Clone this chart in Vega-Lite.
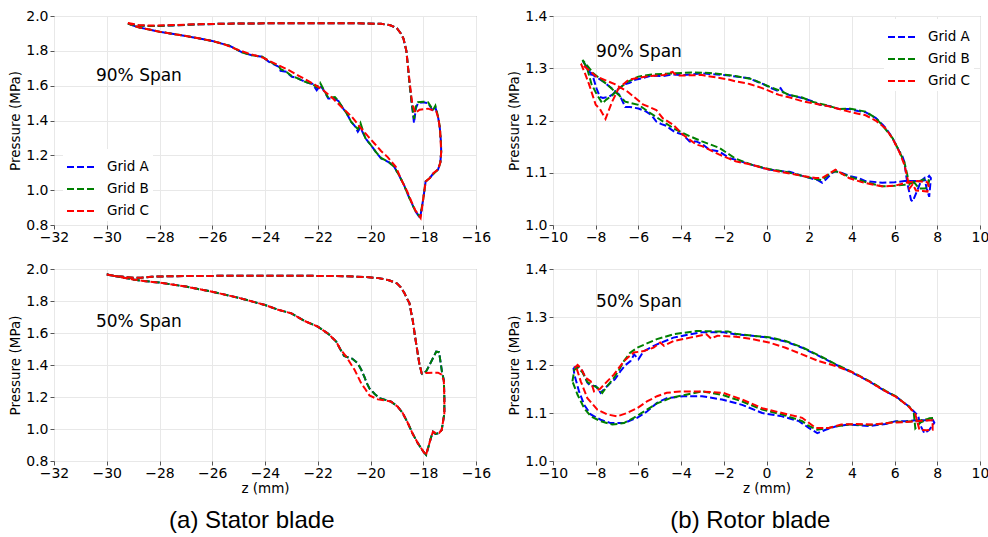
{
"$schema": "https://vega.github.io/schema/vega-lite/v6.json",
"padding": {"left": 8, "top": 8, "right": 0, "bottom": 0},
"spacing": 15,
"config": {
 "font": "DejaVu Sans",
 "view": {"stroke": "#8c8c8c", "strokeWidth": 1},
 "axis": {"labelFont": "DejaVu Sans", "labelFontSize": 14, "labelColor": "#000", "titleFont": "DejaVu Sans", "titleFontSize": 13.5, "titleFontWeight": "normal", "titleColor": "#000", "gridColor": "#e8e8e8", "gridWidth": 1, "domain": false, "tickColor": "#555", "tickSize": 4, "labelPadding": 2, "labelOverlap": false, "tickCount": 12},
 "axisX": {"labelPadding": 1, "titlePadding": 1, "labelFlush": false},
 "axisY": {"titlePadding": 3, "labelOverlap": false},
 "legend": {"title": null, "symbolType": "stroke", "symbolStrokeWidth": 2, "symbolDash": [7, 3], "symbolSize": 784, "labelFont": "DejaVu Sans", "labelFontSize": 13.5, "labelColor": "#000", "labelOffset": 11, "rowPadding": 0, "fillColor": "white", "padding": 3, "orient": "none"}
},
"datasets": {
"s90": [
{"g":"Grid A","z":-29.2,"p":1.955},{"g":"Grid A","z":-28.8,"p":1.945},{"g":"Grid A","z":-28.3,"p":1.942},{"g":"Grid A","z":-27.5,"p":1.946},{"g":"Grid A","z":-26.5,"p":1.952},{"g":"Grid A","z":-25.5,"p":1.956},{"g":"Grid A","z":-24,"p":1.958},{"g":"Grid A","z":-22,"p":1.958},{"g":"Grid A","z":-20.5,"p":1.958},{"g":"Grid A","z":-19.6,"p":1.955},{"g":"Grid A","z":-19.25,"p":1.947},{"g":"Grid A","z":-19.0,"p":1.93},{"g":"Grid A","z":-18.85,"p":1.9},{"g":"Grid A","z":-18.75,"p":1.87},{"g":"Grid A","z":-18.64,"p":1.8},{"g":"Grid A","z":-18.58,"p":1.71},{"g":"Grid A","z":-18.52,"p":1.61},{"g":"Grid A","z":-18.43,"p":1.49},{"g":"Grid A","z":-18.35,"p":1.386},{"g":"Grid A","z":-18.28,"p":1.47},{"g":"Grid A","z":-18.2,"p":1.5},{"g":"Grid A","z":-18.0,"p":1.505},{"g":"Grid A","z":-17.82,"p":1.5},{"g":"Grid A","z":-17.63,"p":1.455},{"g":"Grid A","z":-17.54,"p":1.475},{"g":"Grid A","z":-17.45,"p":1.43},{"g":"Grid A","z":-17.38,"p":1.37},{"g":"Grid A","z":-17.33,"p":1.28},{"g":"Grid A","z":-17.32,"p":1.22},{"g":"Grid A","z":-17.35,"p":1.16},{"g":"Grid A","z":-17.44,"p":1.118},{"g":"Grid A","z":-17.6,"p":1.1},{"g":"Grid A","z":-17.75,"p":1.07},{"g":"Grid A","z":-17.91,"p":1.05},{"g":"Grid A","z":-18.0,"p":0.95},{"g":"Grid A","z":-18.12,"p":0.84},{"g":"Grid A","z":-18.3,"p":0.88},{"g":"Grid A","z":-18.45,"p":0.93},{"g":"Grid A","z":-18.6,"p":0.98},{"g":"Grid A","z":-18.73,"p":1.03},{"g":"Grid A","z":-18.9,"p":1.08},{"g":"Grid A","z":-19.1,"p":1.134},{"g":"Grid A","z":-19.3,"p":1.16},{"g":"Grid A","z":-19.6,"p":1.182},{"g":"Grid A","z":-19.8,"p":1.22},{"g":"Grid A","z":-19.98,"p":1.258},{"g":"Grid A","z":-20.2,"p":1.3},{"g":"Grid A","z":-20.38,"p":1.36},{"g":"Grid A","z":-20.48,"p":1.335},{"g":"Grid A","z":-20.6,"p":1.37},{"g":"Grid A","z":-20.73,"p":1.392},{"g":"Grid A","z":-20.9,"p":1.44},{"g":"Grid A","z":-21.04,"p":1.469},{"g":"Grid A","z":-21.2,"p":1.51},{"g":"Grid A","z":-21.35,"p":1.526},{"g":"Grid A","z":-21.6,"p":1.526},{"g":"Grid A","z":-21.8,"p":1.58},{"g":"Grid A","z":-21.91,"p":1.6},{"g":"Grid A","z":-22.04,"p":1.574},{"g":"Grid A","z":-22.2,"p":1.61},{"g":"Grid A","z":-22.48,"p":1.622},{"g":"Grid A","z":-22.8,"p":1.645},{"g":"Grid A","z":-22.98,"p":1.651},{"g":"Grid A","z":-23.2,"p":1.68},{"g":"Grid A","z":-23.41,"p":1.685},{"g":"Grid A","z":-23.47,"p":1.708},{"g":"Grid A","z":-23.85,"p":1.737},{"g":"Grid A","z":-24.1,"p":1.766},{"g":"Grid A","z":-24.5,"p":1.775},{"g":"Grid A","z":-24.85,"p":1.79},{"g":"Grid A","z":-25.1,"p":1.81},{"g":"Grid A","z":-25.35,"p":1.829},{"g":"Grid A","z":-26.0,"p":1.857},{"g":"Grid A","z":-27.0,"p":1.885},{"g":"Grid A","z":-28.0,"p":1.91},{"g":"Grid A","z":-28.8,"p":1.935},{"g":"Grid A","z":-29.2,"p":1.955},
{"g":"Grid B","z":-29.2,"p":1.957},{"g":"Grid B","z":-28.8,"p":1.945},{"g":"Grid B","z":-28.3,"p":1.942},{"g":"Grid B","z":-27.5,"p":1.946},{"g":"Grid B","z":-26.5,"p":1.952},{"g":"Grid B","z":-25.5,"p":1.956},{"g":"Grid B","z":-24,"p":1.958},{"g":"Grid B","z":-22,"p":1.958},{"g":"Grid B","z":-20.5,"p":1.958},{"g":"Grid B","z":-19.6,"p":1.955},{"g":"Grid B","z":-19.25,"p":1.947},{"g":"Grid B","z":-19.0,"p":1.93},{"g":"Grid B","z":-18.85,"p":1.9},{"g":"Grid B","z":-18.75,"p":1.87},{"g":"Grid B","z":-18.64,"p":1.8},{"g":"Grid B","z":-18.58,"p":1.71},{"g":"Grid B","z":-18.52,"p":1.61},{"g":"Grid B","z":-18.43,"p":1.49},{"g":"Grid B","z":-18.35,"p":1.41},{"g":"Grid B","z":-18.28,"p":1.48},{"g":"Grid B","z":-18.2,"p":1.505},{"g":"Grid B","z":-18.0,"p":1.508},{"g":"Grid B","z":-17.82,"p":1.505},{"g":"Grid B","z":-17.63,"p":1.46},{"g":"Grid B","z":-17.54,"p":1.485},{"g":"Grid B","z":-17.45,"p":1.43},{"g":"Grid B","z":-17.38,"p":1.37},{"g":"Grid B","z":-17.33,"p":1.28},{"g":"Grid B","z":-17.32,"p":1.22},{"g":"Grid B","z":-17.35,"p":1.16},{"g":"Grid B","z":-17.44,"p":1.118},{"g":"Grid B","z":-17.6,"p":1.095},{"g":"Grid B","z":-17.75,"p":1.07},{"g":"Grid B","z":-17.91,"p":1.05},{"g":"Grid B","z":-18.0,"p":0.95},{"g":"Grid B","z":-18.12,"p":0.845},{"g":"Grid B","z":-18.3,"p":0.88},{"g":"Grid B","z":-18.45,"p":0.93},{"g":"Grid B","z":-18.6,"p":0.98},{"g":"Grid B","z":-18.73,"p":1.03},{"g":"Grid B","z":-18.9,"p":1.08},{"g":"Grid B","z":-19.1,"p":1.134},{"g":"Grid B","z":-19.3,"p":1.16},{"g":"Grid B","z":-19.6,"p":1.185},{"g":"Grid B","z":-19.8,"p":1.22},{"g":"Grid B","z":-19.98,"p":1.258},{"g":"Grid B","z":-20.2,"p":1.3},{"g":"Grid B","z":-20.38,"p":1.385},{"g":"Grid B","z":-20.48,"p":1.35},{"g":"Grid B","z":-20.6,"p":1.37},{"g":"Grid B","z":-20.73,"p":1.392},{"g":"Grid B","z":-20.9,"p":1.44},{"g":"Grid B","z":-21.04,"p":1.469},{"g":"Grid B","z":-21.2,"p":1.51},{"g":"Grid B","z":-21.35,"p":1.535},{"g":"Grid B","z":-21.6,"p":1.53},{"g":"Grid B","z":-21.8,"p":1.585},{"g":"Grid B","z":-21.91,"p":1.616},{"g":"Grid B","z":-22.04,"p":1.59},{"g":"Grid B","z":-22.2,"p":1.61},{"g":"Grid B","z":-22.48,"p":1.622},{"g":"Grid B","z":-22.8,"p":1.645},{"g":"Grid B","z":-22.98,"p":1.655},{"g":"Grid B","z":-23.2,"p":1.68},{"g":"Grid B","z":-23.41,"p":1.695},{"g":"Grid B","z":-23.47,"p":1.71},{"g":"Grid B","z":-23.85,"p":1.74},{"g":"Grid B","z":-24.1,"p":1.766},{"g":"Grid B","z":-24.5,"p":1.775},{"g":"Grid B","z":-24.85,"p":1.79},{"g":"Grid B","z":-25.1,"p":1.81},{"g":"Grid B","z":-25.35,"p":1.829},{"g":"Grid B","z":-26.0,"p":1.857},{"g":"Grid B","z":-27.0,"p":1.885},{"g":"Grid B","z":-28.0,"p":1.91},{"g":"Grid B","z":-28.8,"p":1.935},{"g":"Grid B","z":-29.2,"p":1.957},
{"g":"Grid C","z":-29.2,"p":1.96},{"g":"Grid C","z":-28.8,"p":1.948},{"g":"Grid C","z":-28.3,"p":1.945},{"g":"Grid C","z":-27.5,"p":1.948},{"g":"Grid C","z":-26.5,"p":1.953},{"g":"Grid C","z":-25.5,"p":1.956},{"g":"Grid C","z":-24,"p":1.958},{"g":"Grid C","z":-22,"p":1.958},{"g":"Grid C","z":-20.5,"p":1.958},{"g":"Grid C","z":-19.6,"p":1.955},{"g":"Grid C","z":-19.25,"p":1.947},{"g":"Grid C","z":-19.0,"p":1.93},{"g":"Grid C","z":-18.85,"p":1.9},{"g":"Grid C","z":-18.75,"p":1.87},{"g":"Grid C","z":-18.64,"p":1.8},{"g":"Grid C","z":-18.58,"p":1.71},{"g":"Grid C","z":-18.5,"p":1.6},{"g":"Grid C","z":-18.42,"p":1.5},{"g":"Grid C","z":-18.3,"p":1.443},{"g":"Grid C","z":-18.14,"p":1.462},{"g":"Grid C","z":-17.82,"p":1.468},{"g":"Grid C","z":-17.51,"p":1.453},{"g":"Grid C","z":-17.42,"p":1.41},{"g":"Grid C","z":-17.36,"p":1.34},{"g":"Grid C","z":-17.32,"p":1.22},{"g":"Grid C","z":-17.35,"p":1.16},{"g":"Grid C","z":-17.44,"p":1.118},{"g":"Grid C","z":-17.6,"p":1.1},{"g":"Grid C","z":-17.75,"p":1.07},{"g":"Grid C","z":-17.91,"p":1.05},{"g":"Grid C","z":-18.0,"p":0.95},{"g":"Grid C","z":-18.1,"p":0.84},{"g":"Grid C","z":-18.3,"p":0.885},{"g":"Grid C","z":-18.45,"p":0.935},{"g":"Grid C","z":-18.6,"p":0.99},{"g":"Grid C","z":-18.8,"p":1.05},{"g":"Grid C","z":-19.04,"p":1.134},{"g":"Grid C","z":-19.35,"p":1.19},{"g":"Grid C","z":-19.6,"p":1.225},{"g":"Grid C","z":-19.85,"p":1.268},{"g":"Grid C","z":-20.1,"p":1.31},{"g":"Grid C","z":-20.35,"p":1.354},{"g":"Grid C","z":-20.7,"p":1.42},{"g":"Grid C","z":-21.1,"p":1.478},{"g":"Grid C","z":-21.45,"p":1.53},{"g":"Grid C","z":-21.79,"p":1.574},{"g":"Grid C","z":-22.1,"p":1.605},{"g":"Grid C","z":-22.35,"p":1.626},{"g":"Grid C","z":-22.7,"p":1.655},{"g":"Grid C","z":-23.1,"p":1.689},{"g":"Grid C","z":-23.6,"p":1.725},{"g":"Grid C","z":-24.1,"p":1.762},{"g":"Grid C","z":-24.6,"p":1.783},{"g":"Grid C","z":-25.1,"p":1.81},{"g":"Grid C","z":-25.5,"p":1.835},{"g":"Grid C","z":-26.0,"p":1.857},{"g":"Grid C","z":-27.0,"p":1.885},{"g":"Grid C","z":-28.0,"p":1.91},{"g":"Grid C","z":-28.8,"p":1.935},{"g":"Grid C","z":-29.2,"p":1.96}
],
"s50": [
{"g":"Grid A","z":-30.0,"p":1.965},{"g":"Grid A","z":-29.6,"p":1.955},{"g":"Grid A","z":-29.0,"p":1.945},{"g":"Grid A","z":-28.7,"p":1.945},{"g":"Grid A","z":-28.3,"p":1.952},{"g":"Grid A","z":-27.5,"p":1.955},{"g":"Grid A","z":-26,"p":1.957},{"g":"Grid A","z":-24,"p":1.958},{"g":"Grid A","z":-22,"p":1.957},{"g":"Grid A","z":-21,"p":1.955},{"g":"Grid A","z":-20.2,"p":1.95},{"g":"Grid A","z":-19.7,"p":1.943},{"g":"Grid A","z":-19.3,"p":1.93},{"g":"Grid A","z":-19.0,"p":1.91},{"g":"Grid A","z":-18.85,"p":1.885},{"g":"Grid A","z":-18.71,"p":1.848},{"g":"Grid A","z":-18.6,"p":1.81},{"g":"Grid A","z":-18.52,"p":1.785},{"g":"Grid A","z":-18.46,"p":1.73},{"g":"Grid A","z":-18.4,"p":1.68},{"g":"Grid A","z":-18.33,"p":1.6},{"g":"Grid A","z":-18.27,"p":1.535},{"g":"Grid A","z":-18.15,"p":1.41},{"g":"Grid A","z":-18.06,"p":1.348},{"g":"Grid A","z":-18.04,"p":1.344},{"g":"Grid A","z":-17.89,"p":1.36},{"g":"Grid A","z":-17.7,"p":1.42},{"g":"Grid A","z":-17.51,"p":1.483},{"g":"Grid A","z":-17.4,"p":1.48},{"g":"Grid A","z":-17.29,"p":1.358},{"g":"Grid A","z":-17.22,"p":1.306},{"g":"Grid A","z":-17.2,"p":1.2},{"g":"Grid A","z":-17.2,"p":1.098},{"g":"Grid A","z":-17.3,"p":0.994},{"g":"Grid A","z":-17.4,"p":0.975},{"g":"Grid A","z":-17.54,"p":0.969},{"g":"Grid A","z":-17.63,"p":0.983},{"g":"Grid A","z":-17.7,"p":0.95},{"g":"Grid A","z":-17.89,"p":0.838},{"g":"Grid A","z":-18.0,"p":0.86},{"g":"Grid A","z":-18.2,"p":0.91},{"g":"Grid A","z":-18.4,"p":0.97},{"g":"Grid A","z":-18.58,"p":1.036},{"g":"Grid A","z":-18.78,"p":1.1},{"g":"Grid A","z":-18.97,"p":1.14},{"g":"Grid A","z":-19.22,"p":1.171},{"g":"Grid A","z":-19.34,"p":1.178},{"g":"Grid A","z":-19.66,"p":1.192},{"g":"Grid A","z":-19.85,"p":1.22},{"g":"Grid A","z":-20.04,"p":1.254},{"g":"Grid A","z":-20.15,"p":1.29},{"g":"Grid A","z":-20.23,"p":1.325},{"g":"Grid A","z":-20.35,"p":1.37},{"g":"Grid A","z":-20.48,"p":1.41},{"g":"Grid A","z":-20.7,"p":1.44},{"g":"Grid A","z":-21.0,"p":1.456},{"g":"Grid A","z":-21.15,"p":1.5},{"g":"Grid A","z":-21.3,"p":1.546},{"g":"Grid A","z":-21.6,"p":1.595},{"g":"Grid A","z":-22.0,"p":1.64},{"g":"Grid A","z":-22.5,"p":1.675},{"g":"Grid A","z":-23.0,"p":1.723},{"g":"Grid A","z":-23.5,"p":1.745},{"g":"Grid A","z":-24.0,"p":1.775},{"g":"Grid A","z":-25.0,"p":1.82},{"g":"Grid A","z":-26.0,"p":1.858},{"g":"Grid A","z":-27.0,"p":1.89},{"g":"Grid A","z":-28.0,"p":1.915},{"g":"Grid A","z":-28.6,"p":1.925},{"g":"Grid A","z":-29.0,"p":1.935},{"g":"Grid A","z":-29.5,"p":1.95},{"g":"Grid A","z":-30.0,"p":1.965},
{"g":"Grid B","z":-30.0,"p":1.965},{"g":"Grid B","z":-29.6,"p":1.955},{"g":"Grid B","z":-29.0,"p":1.945},{"g":"Grid B","z":-28.7,"p":1.945},{"g":"Grid B","z":-28.3,"p":1.952},{"g":"Grid B","z":-27.5,"p":1.955},{"g":"Grid B","z":-26,"p":1.957},{"g":"Grid B","z":-24,"p":1.958},{"g":"Grid B","z":-22,"p":1.957},{"g":"Grid B","z":-21,"p":1.955},{"g":"Grid B","z":-20.2,"p":1.95},{"g":"Grid B","z":-19.7,"p":1.943},{"g":"Grid B","z":-19.3,"p":1.93},{"g":"Grid B","z":-19.0,"p":1.91},{"g":"Grid B","z":-18.85,"p":1.885},{"g":"Grid B","z":-18.71,"p":1.848},{"g":"Grid B","z":-18.6,"p":1.81},{"g":"Grid B","z":-18.52,"p":1.785},{"g":"Grid B","z":-18.46,"p":1.73},{"g":"Grid B","z":-18.4,"p":1.68},{"g":"Grid B","z":-18.33,"p":1.6},{"g":"Grid B","z":-18.27,"p":1.535},{"g":"Grid B","z":-18.15,"p":1.41},{"g":"Grid B","z":-18.06,"p":1.348},{"g":"Grid B","z":-18.04,"p":1.344},{"g":"Grid B","z":-17.89,"p":1.36},{"g":"Grid B","z":-17.7,"p":1.42},{"g":"Grid B","z":-17.51,"p":1.483},{"g":"Grid B","z":-17.4,"p":1.48},{"g":"Grid B","z":-17.29,"p":1.358},{"g":"Grid B","z":-17.22,"p":1.306},{"g":"Grid B","z":-17.2,"p":1.2},{"g":"Grid B","z":-17.2,"p":1.098},{"g":"Grid B","z":-17.3,"p":0.994},{"g":"Grid B","z":-17.4,"p":0.975},{"g":"Grid B","z":-17.54,"p":0.969},{"g":"Grid B","z":-17.63,"p":0.983},{"g":"Grid B","z":-17.7,"p":0.95},{"g":"Grid B","z":-17.89,"p":0.838},{"g":"Grid B","z":-18.0,"p":0.86},{"g":"Grid B","z":-18.2,"p":0.91},{"g":"Grid B","z":-18.4,"p":0.97},{"g":"Grid B","z":-18.58,"p":1.036},{"g":"Grid B","z":-18.78,"p":1.1},{"g":"Grid B","z":-18.97,"p":1.14},{"g":"Grid B","z":-19.22,"p":1.171},{"g":"Grid B","z":-19.34,"p":1.178},{"g":"Grid B","z":-19.66,"p":1.192},{"g":"Grid B","z":-19.85,"p":1.22},{"g":"Grid B","z":-20.04,"p":1.254},{"g":"Grid B","z":-20.15,"p":1.29},{"g":"Grid B","z":-20.23,"p":1.325},{"g":"Grid B","z":-20.35,"p":1.37},{"g":"Grid B","z":-20.48,"p":1.41},{"g":"Grid B","z":-20.7,"p":1.44},{"g":"Grid B","z":-21.0,"p":1.456},{"g":"Grid B","z":-21.15,"p":1.5},{"g":"Grid B","z":-21.3,"p":1.546},{"g":"Grid B","z":-21.6,"p":1.595},{"g":"Grid B","z":-22.0,"p":1.64},{"g":"Grid B","z":-22.5,"p":1.675},{"g":"Grid B","z":-23.0,"p":1.723},{"g":"Grid B","z":-23.5,"p":1.745},{"g":"Grid B","z":-24.0,"p":1.775},{"g":"Grid B","z":-25.0,"p":1.82},{"g":"Grid B","z":-26.0,"p":1.858},{"g":"Grid B","z":-27.0,"p":1.89},{"g":"Grid B","z":-28.0,"p":1.915},{"g":"Grid B","z":-28.6,"p":1.925},{"g":"Grid B","z":-29.0,"p":1.935},{"g":"Grid B","z":-29.5,"p":1.95},{"g":"Grid B","z":-30.0,"p":1.965},
{"g":"Grid C","z":-30.0,"p":1.965},{"g":"Grid C","z":-29.6,"p":1.955},{"g":"Grid C","z":-29.0,"p":1.945},{"g":"Grid C","z":-28.7,"p":1.945},{"g":"Grid C","z":-28.3,"p":1.952},{"g":"Grid C","z":-27.5,"p":1.955},{"g":"Grid C","z":-26,"p":1.957},{"g":"Grid C","z":-24,"p":1.958},{"g":"Grid C","z":-22,"p":1.957},{"g":"Grid C","z":-21,"p":1.955},{"g":"Grid C","z":-20.2,"p":1.95},{"g":"Grid C","z":-19.7,"p":1.943},{"g":"Grid C","z":-19.3,"p":1.93},{"g":"Grid C","z":-19.0,"p":1.91},{"g":"Grid C","z":-18.85,"p":1.885},{"g":"Grid C","z":-18.71,"p":1.848},{"g":"Grid C","z":-18.6,"p":1.81},{"g":"Grid C","z":-18.52,"p":1.785},{"g":"Grid C","z":-18.46,"p":1.73},{"g":"Grid C","z":-18.4,"p":1.68},{"g":"Grid C","z":-18.33,"p":1.6},{"g":"Grid C","z":-18.27,"p":1.535},{"g":"Grid C","z":-18.15,"p":1.41},{"g":"Grid C","z":-18.06,"p":1.348},{"g":"Grid C","z":-18.0,"p":1.345},{"g":"Grid C","z":-17.9,"p":1.35},{"g":"Grid C","z":-17.6,"p":1.352},{"g":"Grid C","z":-17.44,"p":1.352},{"g":"Grid C","z":-17.3,"p":1.34},{"g":"Grid C","z":-17.22,"p":1.3},{"g":"Grid C","z":-17.2,"p":1.2},{"g":"Grid C","z":-17.2,"p":1.098},{"g":"Grid C","z":-17.3,"p":0.994},{"g":"Grid C","z":-17.4,"p":0.975},{"g":"Grid C","z":-17.54,"p":0.975},{"g":"Grid C","z":-17.63,"p":0.983},{"g":"Grid C","z":-17.7,"p":0.95},{"g":"Grid C","z":-17.9,"p":0.835},{"g":"Grid C","z":-18.0,"p":0.86},{"g":"Grid C","z":-18.2,"p":0.91},{"g":"Grid C","z":-18.4,"p":0.97},{"g":"Grid C","z":-18.58,"p":1.036},{"g":"Grid C","z":-18.78,"p":1.1},{"g":"Grid C","z":-18.97,"p":1.14},{"g":"Grid C","z":-19.22,"p":1.171},{"g":"Grid C","z":-19.5,"p":1.18},{"g":"Grid C","z":-19.72,"p":1.185},{"g":"Grid C","z":-20.04,"p":1.21},{"g":"Grid C","z":-20.2,"p":1.25},{"g":"Grid C","z":-20.35,"p":1.285},{"g":"Grid C","z":-20.6,"p":1.369},{"g":"Grid C","z":-20.92,"p":1.452},{"g":"Grid C","z":-21.15,"p":1.5},{"g":"Grid C","z":-21.3,"p":1.546},{"g":"Grid C","z":-21.6,"p":1.595},{"g":"Grid C","z":-22.0,"p":1.64},{"g":"Grid C","z":-22.5,"p":1.675},{"g":"Grid C","z":-23.0,"p":1.723},{"g":"Grid C","z":-23.5,"p":1.745},{"g":"Grid C","z":-24.0,"p":1.775},{"g":"Grid C","z":-25.0,"p":1.82},{"g":"Grid C","z":-26.0,"p":1.858},{"g":"Grid C","z":-27.0,"p":1.89},{"g":"Grid C","z":-28.0,"p":1.915},{"g":"Grid C","z":-28.6,"p":1.925},{"g":"Grid C","z":-29.0,"p":1.935},{"g":"Grid C","z":-29.5,"p":1.95},{"g":"Grid C","z":-30.0,"p":1.965}
],
"r90": [
{"g":"Grid A","z":-8.6,"p":1.314},{"g":"Grid A","z":-8.31,"p":1.295},{"g":"Grid A","z":-8.1,"p":1.28},{"g":"Grid A","z":-7.95,"p":1.26},{"g":"Grid A","z":-7.8,"p":1.245},{"g":"Grid A","z":-7.66,"p":1.243},{"g":"Grid A","z":-7.4,"p":1.245},{"g":"Grid A","z":-7.2,"p":1.25},{"g":"Grid A","z":-6.9,"p":1.262},{"g":"Grid A","z":-6.6,"p":1.27},{"g":"Grid A","z":-6.41,"p":1.272},{"g":"Grid A","z":-6.15,"p":1.278},{"g":"Grid A","z":-5.79,"p":1.281},{"g":"Grid A","z":-5.38,"p":1.286},{"g":"Grid A","z":-4.85,"p":1.285},{"g":"Grid A","z":-4.4,"p":1.288},{"g":"Grid A","z":-3.92,"p":1.287},{"g":"Grid A","z":-3.02,"p":1.29},{"g":"Grid A","z":-2.67,"p":1.289},{"g":"Grid A","z":-1.73,"p":1.286},{"g":"Grid A","z":-1.45,"p":1.284},{"g":"Grid A","z":-0.8,"p":1.281},{"g":"Grid A","z":-0.67,"p":1.278},{"g":"Grid A","z":-0.17,"p":1.27},{"g":"Grid A","z":0.11,"p":1.264},{"g":"Grid A","z":0.5,"p":1.257},{"g":"Grid A","z":0.66,"p":1.262},{"g":"Grid A","z":0.8,"p":1.253},{"g":"Grid A","z":1.05,"p":1.249},{"g":"Grid A","z":1.67,"p":1.243},{"g":"Grid A","z":2.14,"p":1.237},{"g":"Grid A","z":2.5,"p":1.23},{"g":"Grid A","z":2.92,"p":1.228},{"g":"Grid A","z":3.4,"p":1.222},{"g":"Grid A","z":3.86,"p":1.222},{"g":"Grid A","z":4.3,"p":1.218},{"g":"Grid A","z":4.64,"p":1.216},{"g":"Grid A","z":5.11,"p":1.205},{"g":"Grid A","z":5.44,"p":1.192},{"g":"Grid A","z":5.58,"p":1.186},{"g":"Grid A","z":5.91,"p":1.166},{"g":"Grid A","z":6.05,"p":1.154},{"g":"Grid A","z":6.22,"p":1.141},{"g":"Grid A","z":6.36,"p":1.132},{"g":"Grid A","z":6.46,"p":1.12},{"g":"Grid A","z":6.54,"p":1.095},{"g":"Grid A","z":6.62,"p":1.075},{"g":"Grid A","z":6.77,"p":1.048},{"g":"Grid A","z":6.85,"p":1.045},{"g":"Grid A","z":7.0,"p":1.06},{"g":"Grid A","z":7.25,"p":1.085},{"g":"Grid A","z":7.4,"p":1.09},{"g":"Grid A","z":7.5,"p":1.07},{"g":"Grid A","z":7.62,"p":1.054},{"g":"Grid A","z":7.7,"p":1.09},{"g":"Grid A","z":7.62,"p":1.094},{"g":"Grid A","z":7.46,"p":1.086},{"g":"Grid A","z":7.23,"p":1.084},{"g":"Grid A","z":6.77,"p":1.084},{"g":"Grid A","z":6.46,"p":1.084},{"g":"Grid A","z":6.0,"p":1.082},{"g":"Grid A","z":5.42,"p":1.081},{"g":"Grid A","z":4.64,"p":1.084},{"g":"Grid A","z":4.3,"p":1.09},{"g":"Grid A","z":3.86,"p":1.094},{"g":"Grid A","z":3.5,"p":1.1},{"g":"Grid A","z":3.23,"p":1.103},{"g":"Grid A","z":3.08,"p":1.1},{"g":"Grid A","z":2.8,"p":1.088},{"g":"Grid A","z":2.61,"p":1.081},{"g":"Grid A","z":2.4,"p":1.086},{"g":"Grid A","z":2.3,"p":1.087},{"g":"Grid A","z":1.67,"p":1.094},{"g":"Grid A","z":1.08,"p":1.102},{"g":"Grid A","z":0.89,"p":1.102},{"g":"Grid A","z":0.11,"p":1.106},{"g":"Grid A","z":-0.67,"p":1.115},{"g":"Grid A","z":-1.45,"p":1.125},{"g":"Grid A","z":-1.73,"p":1.128},{"g":"Grid A","z":-2.23,"p":1.141},{"g":"Grid A","z":-2.67,"p":1.144},{"g":"Grid A","z":-3.02,"p":1.155},{"g":"Grid A","z":-3.29,"p":1.16},{"g":"Grid A","z":-3.6,"p":1.16},{"g":"Grid A","z":-3.92,"p":1.173},{"g":"Grid A","z":-4.3,"p":1.178},{"g":"Grid A","z":-4.54,"p":1.185},{"g":"Grid A","z":-4.7,"p":1.19},{"g":"Grid A","z":-4.92,"p":1.193},{"g":"Grid A","z":-5.16,"p":1.198},{"g":"Grid A","z":-5.38,"p":1.21},{"g":"Grid A","z":-5.63,"p":1.217},{"g":"Grid A","z":-6.0,"p":1.223},{"g":"Grid A","z":-6.41,"p":1.226},{"g":"Grid A","z":-6.62,"p":1.226},{"g":"Grid A","z":-6.88,"p":1.249},{"g":"Grid A","z":-7.2,"p":1.26},{"g":"Grid A","z":-7.66,"p":1.275},{"g":"Grid A","z":-8.13,"p":1.287},{"g":"Grid A","z":-8.4,"p":1.3},{"g":"Grid A","z":-8.6,"p":1.314},
{"g":"Grid B","z":-8.62,"p":1.316},{"g":"Grid B","z":-8.4,"p":1.3},{"g":"Grid B","z":-8.2,"p":1.27},{"g":"Grid B","z":-7.95,"p":1.25},{"g":"Grid B","z":-7.69,"p":1.233},{"g":"Grid B","z":-7.5,"p":1.24},{"g":"Grid B","z":-7.23,"p":1.248},{"g":"Grid B","z":-6.95,"p":1.26},{"g":"Grid B","z":-6.46,"p":1.275},{"g":"Grid B","z":-6.0,"p":1.284},{"g":"Grid B","z":-5.38,"p":1.288},{"g":"Grid B","z":-4.5,"p":1.29},{"g":"Grid B","z":-3.5,"p":1.292},{"g":"Grid B","z":-2.67,"p":1.291},{"g":"Grid B","z":-2.0,"p":1.288},{"g":"Grid B","z":-1.45,"p":1.285},{"g":"Grid B","z":-0.67,"p":1.279},{"g":"Grid B","z":0.11,"p":1.265},{"g":"Grid B","z":0.7,"p":1.256},{"g":"Grid B","z":1.05,"p":1.249},{"g":"Grid B","z":1.67,"p":1.244},{"g":"Grid B","z":2.14,"p":1.236},{"g":"Grid B","z":2.92,"p":1.228},{"g":"Grid B","z":3.4,"p":1.222},{"g":"Grid B","z":3.86,"p":1.223},{"g":"Grid B","z":4.64,"p":1.217},{"g":"Grid B","z":5.11,"p":1.205},{"g":"Grid B","z":5.44,"p":1.19},{"g":"Grid B","z":5.91,"p":1.166},{"g":"Grid B","z":6.22,"p":1.141},{"g":"Grid B","z":6.46,"p":1.12},{"g":"Grid B","z":6.6,"p":1.095},{"g":"Grid B","z":6.7,"p":1.078},{"g":"Grid B","z":6.85,"p":1.085},{"g":"Grid B","z":7.15,"p":1.07},{"g":"Grid B","z":7.4,"p":1.07},{"g":"Grid B","z":7.54,"p":1.071},{"g":"Grid B","z":7.62,"p":1.085},{"g":"Grid B","z":7.46,"p":1.088},{"g":"Grid B","z":7.0,"p":1.082},{"g":"Grid B","z":6.46,"p":1.077},{"g":"Grid B","z":6.0,"p":1.075},{"g":"Grid B","z":5.42,"p":1.074},{"g":"Grid B","z":4.64,"p":1.082},{"g":"Grid B","z":3.86,"p":1.093},{"g":"Grid B","z":3.23,"p":1.103},{"g":"Grid B","z":3.0,"p":1.1},{"g":"Grid B","z":2.61,"p":1.086},{"g":"Grid B","z":2.3,"p":1.088},{"g":"Grid B","z":1.67,"p":1.094},{"g":"Grid B","z":0.89,"p":1.102},{"g":"Grid B","z":0.11,"p":1.107},{"g":"Grid B","z":-0.67,"p":1.115},{"g":"Grid B","z":-1.45,"p":1.127},{"g":"Grid B","z":-2.23,"p":1.148},{"g":"Grid B","z":-3.02,"p":1.16},{"g":"Grid B","z":-3.6,"p":1.17},{"g":"Grid B","z":-4.31,"p":1.184},{"g":"Grid B","z":-4.92,"p":1.2},{"g":"Grid B","z":-5.54,"p":1.217},{"g":"Grid B","z":-6.0,"p":1.23},{"g":"Grid B","z":-6.62,"p":1.236},{"g":"Grid B","z":-6.92,"p":1.249},{"g":"Grid B","z":-7.5,"p":1.27},{"g":"Grid B","z":-8.1,"p":1.29},{"g":"Grid B","z":-8.62,"p":1.316},
{"g":"Grid C","z":-8.69,"p":1.309},{"g":"Grid C","z":-8.5,"p":1.29},{"g":"Grid C","z":-8.31,"p":1.269},{"g":"Grid C","z":-8.0,"p":1.23},{"g":"Grid C","z":-7.8,"p":1.222},{"g":"Grid C","z":-7.54,"p":1.203},{"g":"Grid C","z":-7.23,"p":1.236},{"g":"Grid C","z":-6.92,"p":1.262},{"g":"Grid C","z":-6.46,"p":1.278},{"g":"Grid C","z":-5.54,"p":1.285},{"g":"Grid C","z":-4.8,"p":1.287},{"g":"Grid C","z":-4.4,"p":1.293},{"g":"Grid C","z":-4.2,"p":1.286},{"g":"Grid C","z":-3.02,"p":1.287},{"g":"Grid C","z":-2.3,"p":1.282},{"g":"Grid C","z":-1.73,"p":1.278},{"g":"Grid C","z":-1.45,"p":1.275},{"g":"Grid C","z":-0.8,"p":1.27},{"g":"Grid C","z":-0.2,"p":1.262},{"g":"Grid C","z":0.58,"p":1.249},{"g":"Grid C","z":1.1,"p":1.244},{"g":"Grid C","z":1.67,"p":1.237},{"g":"Grid C","z":2.3,"p":1.232},{"g":"Grid C","z":2.92,"p":1.227},{"g":"Grid C","z":3.86,"p":1.217},{"g":"Grid C","z":4.64,"p":1.21},{"g":"Grid C","z":5.11,"p":1.2},{"g":"Grid C","z":5.58,"p":1.185},{"g":"Grid C","z":5.91,"p":1.165},{"g":"Grid C","z":6.22,"p":1.14},{"g":"Grid C","z":6.46,"p":1.115},{"g":"Grid C","z":6.6,"p":1.09},{"g":"Grid C","z":6.7,"p":1.07},{"g":"Grid C","z":6.85,"p":1.078},{"g":"Grid C","z":7.0,"p":1.066},{"g":"Grid C","z":7.31,"p":1.065},{"g":"Grid C","z":7.54,"p":1.064},{"g":"Grid C","z":7.6,"p":1.075},{"g":"Grid C","z":7.54,"p":1.082},{"g":"Grid C","z":7.08,"p":1.084},{"g":"Grid C","z":6.62,"p":1.082},{"g":"Grid C","z":6.0,"p":1.075},{"g":"Grid C","z":5.38,"p":1.074},{"g":"Grid C","z":4.46,"p":1.082},{"g":"Grid C","z":3.86,"p":1.09},{"g":"Grid C","z":3.23,"p":1.106},{"g":"Grid C","z":3.0,"p":1.1},{"g":"Grid C","z":2.61,"p":1.09},{"g":"Grid C","z":2.3,"p":1.09},{"g":"Grid C","z":1.67,"p":1.094},{"g":"Grid C","z":0.89,"p":1.1},{"g":"Grid C","z":0.11,"p":1.106},{"g":"Grid C","z":-0.67,"p":1.115},{"g":"Grid C","z":-1.45,"p":1.122},{"g":"Grid C","z":-2.23,"p":1.135},{"g":"Grid C","z":-3.02,"p":1.151},{"g":"Grid C","z":-3.29,"p":1.154},{"g":"Grid C","z":-3.92,"p":1.173},{"g":"Grid C","z":-4.38,"p":1.192},{"g":"Grid C","z":-4.85,"p":1.204},{"g":"Grid C","z":-5.16,"p":1.22},{"g":"Grid C","z":-5.79,"p":1.231},{"g":"Grid C","z":-6.5,"p":1.255},{"g":"Grid C","z":-7.08,"p":1.269},{"g":"Grid C","z":-8.0,"p":1.285},{"g":"Grid C","z":-8.69,"p":1.309}
],
"r50": [
{"g":"Grid A","z":-9.04,"p":1.194},{"g":"Grid A","z":-8.85,"p":1.198},{"g":"Grid A","z":-8.62,"p":1.187},{"g":"Grid A","z":-8.39,"p":1.163},{"g":"Grid A","z":-8.23,"p":1.156},{"g":"Grid A","z":-8.0,"p":1.156},{"g":"Grid A","z":-7.77,"p":1.142},{"g":"Grid A","z":-7.6,"p":1.15},{"g":"Grid A","z":-7.3,"p":1.163},{"g":"Grid A","z":-7.1,"p":1.17},{"g":"Grid A","z":-6.84,"p":1.187},{"g":"Grid A","z":-6.6,"p":1.2},{"g":"Grid A","z":-6.37,"p":1.208},{"g":"Grid A","z":-6.2,"p":1.222},{"g":"Grid A","z":-6.0,"p":1.212},{"g":"Grid A","z":-5.75,"p":1.229},{"g":"Grid A","z":-5.13,"p":1.243},{"g":"Grid A","z":-4.36,"p":1.257},{"g":"Grid A","z":-3.58,"p":1.264},{"g":"Grid A","z":-3.02,"p":1.268},{"g":"Grid A","z":-2.0,"p":1.268},{"g":"Grid A","z":-1.45,"p":1.264},{"g":"Grid A","z":-0.67,"p":1.261},{"g":"Grid A","z":0.11,"p":1.257},{"g":"Grid A","z":0.89,"p":1.249},{"g":"Grid A","z":1.67,"p":1.236},{"g":"Grid A","z":2.45,"p":1.219},{"g":"Grid A","z":3.23,"p":1.201},{"g":"Grid A","z":4.02,"p":1.184},{"g":"Grid A","z":4.8,"p":1.166},{"g":"Grid A","z":5.58,"p":1.145},{"g":"Grid A","z":6.05,"p":1.135},{"g":"Grid A","z":6.36,"p":1.124},{"g":"Grid A","z":6.69,"p":1.113},{"g":"Grid A","z":6.97,"p":1.1},{"g":"Grid A","z":7.1,"p":1.095},{"g":"Grid A","z":7.2,"p":1.075},{"g":"Grid A","z":7.39,"p":1.058},{"g":"Grid A","z":7.63,"p":1.065},{"g":"Grid A","z":7.86,"p":1.08},{"g":"Grid A","z":7.8,"p":1.085},{"g":"Grid A","z":7.0,"p":1.085},{"g":"Grid A","z":6.5,"p":1.083},{"g":"Grid A","z":6.05,"p":1.083},{"g":"Grid A","z":5.58,"p":1.077},{"g":"Grid A","z":4.8,"p":1.073},{"g":"Grid A","z":3.86,"p":1.076},{"g":"Grid A","z":3.23,"p":1.072},{"g":"Grid A","z":2.77,"p":1.065},{"g":"Grid A","z":2.38,"p":1.058},{"g":"Grid A","z":1.98,"p":1.069},{"g":"Grid A","z":1.52,"p":1.083},{"g":"Grid A","z":0.73,"p":1.093},{"g":"Grid A","z":-0.2,"p":1.1},{"g":"Grid A","z":-1.14,"p":1.117},{"g":"Grid A","z":-2.08,"p":1.128},{"g":"Grid A","z":-3.02,"p":1.135},{"g":"Grid A","z":-3.89,"p":1.135},{"g":"Grid A","z":-4.67,"p":1.131},{"g":"Grid A","z":-5.13,"p":1.121},{"g":"Grid A","z":-5.6,"p":1.103},{"g":"Grid A","z":-6.06,"p":1.09},{"g":"Grid A","z":-6.68,"p":1.079},{"g":"Grid A","z":-7.3,"p":1.079},{"g":"Grid A","z":-7.77,"p":1.086},{"g":"Grid A","z":-8.23,"p":1.097},{"g":"Grid A","z":-8.54,"p":1.117},{"g":"Grid A","z":-8.78,"p":1.145},{"g":"Grid A","z":-9.0,"p":1.18},{"g":"Grid A","z":-9.04,"p":1.194},
{"g":"Grid B","z":-9.09,"p":1.166},{"g":"Grid B","z":-9.0,"p":1.19},{"g":"Grid B","z":-8.85,"p":1.195},{"g":"Grid B","z":-8.62,"p":1.185},{"g":"Grid B","z":-8.4,"p":1.165},{"g":"Grid B","z":-8.2,"p":1.159},{"g":"Grid B","z":-7.92,"p":1.153},{"g":"Grid B","z":-7.69,"p":1.142},{"g":"Grid B","z":-7.46,"p":1.156},{"g":"Grid B","z":-7.15,"p":1.173},{"g":"Grid B","z":-6.9,"p":1.19},{"g":"Grid B","z":-6.68,"p":1.208},{"g":"Grid B","z":-6.4,"p":1.225},{"g":"Grid B","z":-6.06,"p":1.236},{"g":"Grid B","z":-5.6,"p":1.245},{"g":"Grid B","z":-5.13,"p":1.254},{"g":"Grid B","z":-4.36,"p":1.264},{"g":"Grid B","z":-3.27,"p":1.271},{"g":"Grid B","z":-2.5,"p":1.27},{"g":"Grid B","z":-1.8,"p":1.27},{"g":"Grid B","z":-1.45,"p":1.265},{"g":"Grid B","z":-0.67,"p":1.261},{"g":"Grid B","z":0.11,"p":1.258},{"g":"Grid B","z":0.89,"p":1.25},{"g":"Grid B","z":1.67,"p":1.237},{"g":"Grid B","z":2.45,"p":1.22},{"g":"Grid B","z":3.23,"p":1.202},{"g":"Grid B","z":4.02,"p":1.185},{"g":"Grid B","z":4.8,"p":1.167},{"g":"Grid B","z":5.58,"p":1.146},{"g":"Grid B","z":6.05,"p":1.135},{"g":"Grid B","z":6.36,"p":1.124},{"g":"Grid B","z":6.69,"p":1.113},{"g":"Grid B","z":6.9,"p":1.1},{"g":"Grid B","z":6.97,"p":1.068},{"g":"Grid B","z":7.2,"p":1.08},{"g":"Grid B","z":7.63,"p":1.089},{"g":"Grid B","z":7.85,"p":1.09},{"g":"Grid B","z":7.4,"p":1.086},{"g":"Grid B","z":7.0,"p":1.083},{"g":"Grid B","z":6.5,"p":1.082},{"g":"Grid B","z":6.0,"p":1.082},{"g":"Grid B","z":5.58,"p":1.078},{"g":"Grid B","z":4.8,"p":1.075},{"g":"Grid B","z":3.86,"p":1.076},{"g":"Grid B","z":3.23,"p":1.072},{"g":"Grid B","z":2.92,"p":1.069},{"g":"Grid B","z":2.38,"p":1.065},{"g":"Grid B","z":1.98,"p":1.073},{"g":"Grid B","z":1.67,"p":1.083},{"g":"Grid B","z":0.73,"p":1.097},{"g":"Grid B","z":-0.2,"p":1.107},{"g":"Grid B","z":-1.14,"p":1.124},{"g":"Grid B","z":-2.08,"p":1.138},{"g":"Grid B","z":-3.02,"p":1.145},{"g":"Grid B","z":-3.89,"p":1.137},{"g":"Grid B","z":-4.51,"p":1.131},{"g":"Grid B","z":-5.13,"p":1.12},{"g":"Grid B","z":-5.6,"p":1.107},{"g":"Grid B","z":-6.22,"p":1.09},{"g":"Grid B","z":-6.68,"p":1.079},{"g":"Grid B","z":-7.22,"p":1.076},{"g":"Grid B","z":-7.77,"p":1.083},{"g":"Grid B","z":-8.23,"p":1.093},{"g":"Grid B","z":-8.54,"p":1.11},{"g":"Grid B","z":-8.85,"p":1.138},{"g":"Grid B","z":-9.09,"p":1.166},
{"g":"Grid C","z":-8.98,"p":1.194},{"g":"Grid C","z":-8.85,"p":1.2},{"g":"Grid C","z":-8.7,"p":1.194},{"g":"Grid C","z":-8.46,"p":1.173},{"g":"Grid C","z":-8.23,"p":1.166},{"g":"Grid C","z":-8.08,"p":1.145},{"g":"Grid C","z":-7.8,"p":1.15},{"g":"Grid C","z":-7.46,"p":1.166},{"g":"Grid C","z":-7.15,"p":1.18},{"g":"Grid C","z":-6.68,"p":1.208},{"g":"Grid C","z":-6.22,"p":1.226},{"g":"Grid C","z":-5.75,"p":1.229},{"g":"Grid C","z":-5.29,"p":1.236},{"g":"Grid C","z":-4.98,"p":1.247},{"g":"Grid C","z":-4.8,"p":1.24},{"g":"Grid C","z":-4.36,"p":1.25},{"g":"Grid C","z":-3.58,"p":1.257},{"g":"Grid C","z":-2.81,"p":1.264},{"g":"Grid C","z":-2.6,"p":1.255},{"g":"Grid C","z":-2.3,"p":1.261},{"g":"Grid C","z":-1.45,"p":1.259},{"g":"Grid C","z":-0.67,"p":1.254},{"g":"Grid C","z":0.11,"p":1.247},{"g":"Grid C","z":0.89,"p":1.236},{"g":"Grid C","z":1.67,"p":1.222},{"g":"Grid C","z":2.45,"p":1.208},{"g":"Grid C","z":3.23,"p":1.198},{"g":"Grid C","z":4.02,"p":1.185},{"g":"Grid C","z":4.8,"p":1.166},{"g":"Grid C","z":5.58,"p":1.145},{"g":"Grid C","z":6.05,"p":1.134},{"g":"Grid C","z":6.36,"p":1.124},{"g":"Grid C","z":6.69,"p":1.112},{"g":"Grid C","z":6.97,"p":1.098},{"g":"Grid C","z":7.16,"p":1.065},{"g":"Grid C","z":7.5,"p":1.064},{"g":"Grid C","z":7.78,"p":1.065},{"g":"Grid C","z":7.78,"p":1.085},{"g":"Grid C","z":7.0,"p":1.083},{"g":"Grid C","z":6.5,"p":1.081},{"g":"Grid C","z":5.9,"p":1.08},{"g":"Grid C","z":5.0,"p":1.076},{"g":"Grid C","z":4.2,"p":1.077},{"g":"Grid C","z":3.5,"p":1.076},{"g":"Grid C","z":2.92,"p":1.069},{"g":"Grid C","z":2.3,"p":1.069},{"g":"Grid C","z":1.67,"p":1.09},{"g":"Grid C","z":0.73,"p":1.1},{"g":"Grid C","z":-0.2,"p":1.11},{"g":"Grid C","z":-1.14,"p":1.128},{"g":"Grid C","z":-2.03,"p":1.142},{"g":"Grid C","z":-3.12,"p":1.145},{"g":"Grid C","z":-4.05,"p":1.145},{"g":"Grid C","z":-4.67,"p":1.142},{"g":"Grid C","z":-5.13,"p":1.135},{"g":"Grid C","z":-5.6,"p":1.124},{"g":"Grid C","z":-6.06,"p":1.11},{"g":"Grid C","z":-6.53,"p":1.1},{"g":"Grid C","z":-6.99,"p":1.093},{"g":"Grid C","z":-7.46,"p":1.097},{"g":"Grid C","z":-7.92,"p":1.107},{"g":"Grid C","z":-8.39,"p":1.131},{"g":"Grid C","z":-8.7,"p":1.166},{"g":"Grid C","z":-8.93,"p":1.198},{"g":"Grid C","z":-8.98,"p":1.194}
]
},
"hconcat": [
{
 "spacing": 16,
 "title": {"text": "(a) Stator blade", "orient": "bottom", "anchor": "middle", "font": "Liberation Sans", "fontSize": 24, "fontWeight": "normal", "color": "#000", "dy": 10, "dx": 2},
 "vconcat": [
 {
  "width": 422, "height": 209,
  "layer": [
   {"data": {"name": "s90"},
    "mark": {"type": "line", "strokeDash": [7, 3], "strokeWidth": 2},
    "encoding": {
     "x": {"field": "z", "type": "quantitative", "scale": {"domain": [-32, -16], "nice": false, "zero": false}, "axis": {"title": null, "tickCount": 12, "values": [-32, -30, -28, -26, -24, -22, -20, -18, -16]}},
     "y": {"field": "p", "type": "quantitative", "scale": {"domain": [0.8, 2.0], "nice": false, "zero": false}, "axis": {"title": "Pressure (MPa)", "format": ".1f", "labelOverlap": false, "tickCount": 12, "values": [0.8, 1.0, 1.2, 1.4, 1.6, 1.8, 2.0]}},
     "color": {"field": "g", "type": "nominal", "scale": {"domain": ["Grid A", "Grid B", "Grid C"], "range": ["#0000ff", "#008000", "#ff0000"]}, "legend": {"legendX": 9, "legendY": 133}},
     "order": {"value": null}
    }},
   {"data": {"values": [{"z": -30.41, "p": 1.655, "t": "90% Span"}]},
    "mark": {"type": "text", "align": "left", "baseline": "middle", "fontSize": 17, "font": "DejaVu Sans", "color": "#000"},
    "encoding": {"x": {"field": "z", "type": "quantitative"}, "y": {"field": "p", "type": "quantitative"}, "text": {"field": "t"}}}
  ]
 },
 {
  "width": 422, "height": 192,
  "layer": [
   {"data": {"name": "s50"},
    "mark": {"type": "line", "strokeDash": [7, 3], "strokeWidth": 2},
    "encoding": {
     "x": {"field": "z", "type": "quantitative", "scale": {"domain": [-32, -16], "nice": false, "zero": false}, "axis": {"title": "z (mm)", "tickCount": 12, "values": [-32, -30, -28, -26, -24, -22, -20, -18, -16]}},
     "y": {"field": "p", "type": "quantitative", "scale": {"domain": [0.8, 2.0], "nice": false, "zero": false}, "axis": {"title": "Pressure (MPa)", "format": ".1f", "labelOverlap": false, "tickCount": 12, "values": [0.8, 1.0, 1.2, 1.4, 1.6, 1.8, 2.0]}},
     "color": {"field": "g", "type": "nominal", "scale": {"domain": ["Grid A", "Grid B", "Grid C"], "range": ["#0000ff", "#008000", "#ff0000"]}, "legend": {"legendX": 9, "legendY": 116}},
     "order": {"value": null}
    }},
   {"data": {"values": [{"z": -30.41, "p": 1.67, "t": "50% Span"}]},
    "mark": {"type": "text", "align": "left", "baseline": "middle", "fontSize": 17, "font": "DejaVu Sans", "color": "#000"},
    "encoding": {"x": {"field": "z", "type": "quantitative"}, "y": {"field": "p", "type": "quantitative"}, "text": {"field": "t"}}}
  ]
 }
 ]
},
{
 "spacing": 16,
 "title": {"text": "(b) Rotor blade", "orient": "bottom", "anchor": "middle", "font": "Liberation Sans", "fontSize": 24, "fontWeight": "normal", "color": "#000", "dy": 10, "dx": 2},
 "vconcat": [
 {
  "width": 427, "height": 209,
  "layer": [
   {"data": {"name": "r90"},
    "mark": {"type": "line", "strokeDash": [7, 3], "strokeWidth": 2},
    "encoding": {
     "x": {"field": "z", "type": "quantitative", "scale": {"domain": [-10, 10], "nice": false, "zero": false}, "axis": {"title": null, "tickCount": 12, "values": [-10, -8, -6, -4, -2, 0, 2, 4, 6, 8, 10]}},
     "y": {"field": "p", "type": "quantitative", "scale": {"domain": [1.0, 1.4], "nice": false, "zero": false}, "axis": {"title": "Pressure (MPa)", "format": ".1f", "labelOverlap": false, "tickCount": 12, "values": [1.0, 1.1, 1.2, 1.3, 1.4]}},
     "color": {"field": "g", "type": "nominal", "scale": {"domain": ["Grid A", "Grid B", "Grid C"], "range": ["#0000ff", "#008000", "#ff0000"]}, "legend": {"legendX": 331, "legendY": 3}},
     "order": {"value": null}
    }},
   {"data": {"values": [{"z": -7.99, "p": 1.331, "t": "90% Span"}]},
    "mark": {"type": "text", "align": "left", "baseline": "middle", "fontSize": 17, "font": "DejaVu Sans", "color": "#000"},
    "encoding": {"x": {"field": "z", "type": "quantitative"}, "y": {"field": "p", "type": "quantitative"}, "text": {"field": "t"}}}
  ]
 },
 {
  "width": 427, "height": 192,
  "layer": [
   {"data": {"name": "r50"},
    "mark": {"type": "line", "strokeDash": [7, 3], "strokeWidth": 2},
    "encoding": {
     "x": {"field": "z", "type": "quantitative", "scale": {"domain": [-10, 10], "nice": false, "zero": false}, "axis": {"title": "z (mm)", "tickCount": 12, "values": [-10, -8, -6, -4, -2, 0, 2, 4, 6, 8, 10]}},
     "y": {"field": "p", "type": "quantitative", "scale": {"domain": [1.0, 1.4], "nice": false, "zero": false}, "axis": {"title": "Pressure (MPa)", "format": ".1f", "labelOverlap": false, "tickCount": 12, "values": [1.0, 1.1, 1.2, 1.3, 1.4]}},
     "color": {"field": "g", "type": "nominal", "scale": {"domain": ["Grid A", "Grid B", "Grid C"], "range": ["#0000ff", "#008000", "#ff0000"]}, "legend": {"legendX": 331, "legendY": 3}},
     "order": {"value": null}
    }},
   {"data": {"values": [{"z": -7.99, "p": 1.331, "t": "50% Span"}]},
    "mark": {"type": "text", "align": "left", "baseline": "middle", "fontSize": 17, "font": "DejaVu Sans", "color": "#000"},
    "encoding": {"x": {"field": "z", "type": "quantitative"}, "y": {"field": "p", "type": "quantitative"}, "text": {"field": "t"}}}
  ]
 }
 ]
}
],
"resolve": {"scale": {"color": "independent"}, "legend": {"color": "independent"}}
}
